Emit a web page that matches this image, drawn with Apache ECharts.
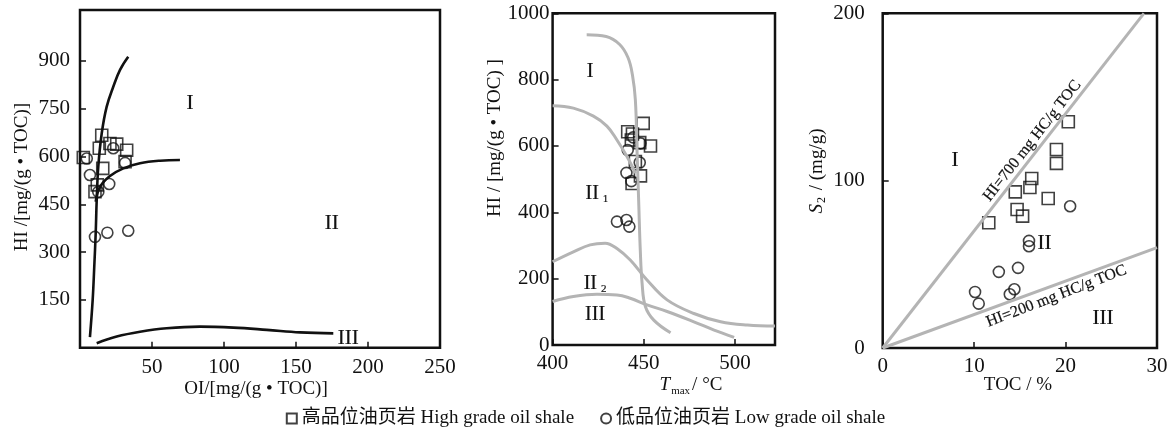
<!DOCTYPE html>
<html>
<head>
<meta charset="utf-8">
<script src="https://cdn.jsdelivr.net/npm/echarts@6/dist/echarts.min.js"></script>
<style>
    html, body { margin: 0; padding: 0; background: #fff; }
    #chartDiv { width: 1171px; height: 436px; }
</style>
</head>
<body>
<div id="chartDiv"></div>
<script>
    // ---- 图1: HI - OI ----
    var p1Squares = [[15.1, 667], [13.4, 626], [20.8, 641], [25.5, 639], [32.4, 620], [31.3, 584], [15.8, 563], [2.3, 597], [12.0, 511], [10.4, 490]];
    var p1Circles = [[4.7, 594], [23.1, 626], [31.3, 580], [6.9, 542], [20.3, 514], [12.7, 489], [10.4, 348], [19.0, 361], [33.5, 367]];
    var p1CurveA = [[6.9, 33], [8.8, 150], [9.9, 254], [10.9, 359], [11.6, 463], [12.7, 568], [15.1, 673], [18.5, 756], [23.1, 819], [27.8, 872], [33.5, 913]];
    var p1CurveB = [[10.9, 458], [13.9, 505], [20.8, 539], [30.1, 563], [41.7, 579], [55.6, 587], [69.4, 589]];
    var p1CurveC = [[11.6, 14], [25.5, 35], [41.7, 50], [60.2, 61], [83.3, 66], [106.5, 63], [129.7, 56], [152.8, 48], [175.9, 45]];
    var p1Labels = ['I', 'II', 'III'];
    var p1LabelPos = [[76.4, 767], [174.8, 390], [186.3, 30]];
    var p1XTicks = [50, 100, 150, 200, 250];
    var p1YTicks = [150, 300, 450, 600, 750, 900];

    // ---- 图2: HI - Tmax ----
    var p2Squares = [[441.2, 643], [443.8, 636], [443.2, 618], [447.8, 610], [449.7, 668], [453.7, 600], [445.4, 553], [448.2, 510], [443.6, 487]];
    var p2Circles = [[444.2, 626], [448.2, 608], [441.2, 588], [447.8, 550], [440.5, 519], [443.2, 494], [435.3, 372], [440.5, 377], [442.1, 357]];
    var p2Curve1 = [[418.7, 935], [429.4, 930], [436.8, 906], [441.4, 866], [443.8, 814], [445.4, 739], [446.3, 588], [447.2, 437], [448.1, 286], [449.1, 186], [450.9, 116], [455.5, 75], [464.7, 37]];
    var p2Curve2 = [[400, 721], [411.4, 714], [422.4, 690], [429.8, 660], [435.3, 618], [440.8, 568], [445.4, 518]];
    var p2Curve3 = [[400, 251], [411.4, 281], [420.6, 302], [428.8, 307], [435.3, 291], [442.6, 256], [451.8, 196], [462.8, 136], [477.5, 95], [492.2, 70], [506.9, 60], [522, 57]];
    var p2Curve4 = [[400, 131], [411.4, 146], [424.3, 153], [435.3, 151], [442.6, 141], [451.8, 121], [462.8, 101], [477.5, 70], [488.6, 45], [499.6, 23]];
    var p2Labels = ['{r|I}', '{r|II}{s|1}', '{r|II}{s|2}', '{r|III}'];
    var p2LabelPos = [[420.6, 824], [424.3, 457], [423.3, 186], [423.3, 90]];
    var p2XTicks = [400, 450, 500];
    var p2YTicks = [0, 200, 400, 600, 800, 1000];

    // ---- 图3: S2 - TOC ----
    var p3Squares = [[11.6, 74.8], [14.5, 93.3], [14.7, 82.8], [15.3, 78.8], [16.1, 95.9], [16.3, 101.3], [18.1, 89.3], [19, 118.6], [19, 110.3], [20.3, 135.2]];
    var p3Circles = [[20.5, 84.7], [16, 64], [16, 60.8], [14.8, 47.9], [12.7, 45.5], [14.4, 35.1], [13.9, 32.1], [10.1, 33.5], [10.5, 26.5]];
    var p3Hi700 = [[0, 0], [28.57, 200]];
    var p3Hi200 = [[0, 0], [30, 60]];
    var p3Labels = ['I', 'II', 'III'];
    var p3LabelPos = [[7.9, 112.3], [17.7, 62.4], [24.1, 17.5]];
    var p3LineLabels = ['HI=700 mg HC/g TOC', 'HI=200 mg HC/g TOC'];
    var p3LineLabelPos = [[16.35, 123.8], [19.0, 31.0]];
    var p3LineLabelRot = [52, 21];
    var p3XTicks = [0, 10, 20, 30];
    var p3YTicks = [0, 100, 200];

    var highName = '高品位油页岩 High grade oil shale';
    var lowName = '低品位油页岩 Low grade oil shale';

    var SERIF = "'Liberation Serif', 'Noto Sans CJK SC', serif";
    var INK = '#111';
    var GRAY = '#b4b4b4';

    var chart = echarts.init(document.getElementById('chartDiv'), null, {renderer: 'canvas'});

    function grid(left, top, width, height) {
        return {left: left, top: top, width: width, height: height, show: true,
            borderColor: INK, borderWidth: 2.5, backgroundColor: 'transparent'};
    }

    function axis(idx, min, max, ticks, margin) {
        return {
            type: 'value', gridIndex: idx, min: min, max: max,
            splitLine: {show: false},
            axisLine: {show: false},
            axisTick: {show: true, inside: true, length: 6, customValues: ticks,
                lineStyle: {color: INK, width: 1.5}},
            axisLabel: {show: true, customValues: ticks, margin: margin,
                formatter: function (v) { return String(v); },
                color: INK, fontFamily: SERIF, fontSize: 21}
        };
    }

    function curve(data, xi, color) {
        return {
            type: 'line', xAxisIndex: xi, yAxisIndex: xi, data: data,
            smooth: 0.4, symbol: 'none', silent: true,
            lineStyle: {color: color, width: xi === 0 ? 2.6 : 3}
        };
    }

    function points(name, data, xi, symbol, size) {
        return {
            type: 'scatter', name: name, xAxisIndex: xi, yAxisIndex: xi, data: data,
            symbol: symbol, symbolSize: size, silent: true,
            itemStyle: {color: 'rgba(255,255,255,0)', borderColor: INK, borderWidth: 1.6}
        };
    }

    // 区域文字：custom 系列，按数据坐标放置
    function labels(texts, pos, xi, fontSize, rot) {
        return {
            type: 'custom', xAxisIndex: xi, yAxisIndex: xi, silent: true,
            data: pos,
            renderItem: function (params, api) {
                var i = params.dataIndex;
                var pt = api.coord([api.value(0), api.value(1)]);
                return {
                    type: 'text', x: pt[0], y: pt[1],
                    rotation: rot ? rot[i] * Math.PI / 180 : 0,
                    style: {
                        text: texts[i], fill: INK, stroke: INK, lineWidth: 0.2,
                        align: 'center', verticalAlign: 'middle',
                        font: fontSize + 'px ' + SERIF,
                        rich: {
                            r: {fontFamily: SERIF, fontSize: fontSize, fill: INK},
                            s: {fontFamily: SERIF, fontSize: 11, fill: INK, padding: [12, 0, 0, 4]}
                        }
                    }
                };
            }
        };
    }

    var option = {
        animation: false,
        grid: [
            grid(80, 10, 360, 337.7),
            grid(552.6, 13.3, 222.4, 331.7),
            grid(882.7, 13.3, 274.3, 334.7)
        ],
        xAxis: [
            axis(0, 0, 250, p1XTicks, 9),
            axis(1, 400, 522, p2XTicks, 8),
            axis(2, 0, 30, p3XTicks, 8)
        ],
        yAxis: [
            axis(0, 0, 1060, p1YTicks, 10),
            axis(1, 0, 1000, p2YTicks, 3),
            axis(2, 0, 200, p3YTicks, 18)
        ],
        legend: {
            left: 'center', top: 404, itemGap: 26, itemWidth: 10, itemHeight: 10,
            data: [{name: highName, icon: 'rect'}, {name: lowName, icon: 'circle'}],
            itemStyle: {color: '#fff', borderColor: INK, borderWidth: 2},
            textStyle: {fontFamily: SERIF, fontSize: 19, color: INK}
        },
        graphic: [
            {type: 'text', x: 21.7, y: 177, rotation: Math.PI / 2,
                style: {text: 'HI /[mg/(g • TOC)]', font: '19px ' + SERIF, fill: INK, align: 'center', verticalAlign: 'middle'}},
            {type: 'text', x: 256, y: 389,
                style: {text: 'OI/[mg/(g • TOC)]', font: '19px ' + SERIF, fill: INK, align: 'center', verticalAlign: 'middle'}},
            {type: 'text', x: 495, y: 138, rotation: Math.PI / 2,
                style: {text: 'HI / [mg/(g • TOC) ]', font: '19px ' + SERIF, fill: INK, align: 'center', verticalAlign: 'middle'}},
            {type: 'text', x: 691, y: 385,
                style: {text: '{i|T}{s|max}{n|/ °C}', fill: INK, align: 'center', verticalAlign: 'middle',
                    rich: {
                        i: {fontFamily: SERIF, fontSize: 19, fontStyle: 'italic', fill: INK},
                        s: {fontFamily: SERIF, fontSize: 11, fill: INK, padding: [12, 2, 0, 1]},
                        n: {fontFamily: SERIF, fontSize: 19, fill: INK}
                    }}},
            {type: 'text', x: 816.7, y: 171, rotation: Math.PI / 2,
                style: {text: '{i|S}{s|2}{n| / (mg/g)}', fill: INK, align: 'center', verticalAlign: 'middle',
                    rich: {
                        i: {fontFamily: SERIF, fontSize: 19, fontStyle: 'italic', fill: INK},
                        s: {fontFamily: SERIF, fontSize: 12, fill: INK, padding: [10, 2, 0, 1]},
                        n: {fontFamily: SERIF, fontSize: 19, fill: INK}
                    }}},
            {type: 'text', x: 1018, y: 385,
                style: {text: 'TOC / %', font: '19px ' + SERIF, fill: INK, align: 'center', verticalAlign: 'middle'}}
        ],
        series: [
            curve(p1CurveA, 0, INK),
            curve(p1CurveB, 0, INK),
            curve(p1CurveC, 0, INK),
            points(highName, p1Squares, 0, 'rect', 12),
            points(lowName, p1Circles, 0, 'circle', 11),
            labels(p1Labels, p1LabelPos, 0, 21),

            curve(p2Curve1, 1, GRAY),
            curve(p2Curve2, 1, GRAY),
            curve(p2Curve3, 1, GRAY),
            curve(p2Curve4, 1, GRAY),
            points(highName, p2Squares, 1, 'rect', 12),
            points(lowName, p2Circles, 1, 'circle', 11),
            labels(p2Labels, p2LabelPos, 1, 20),

            curve(p3Hi700, 2, GRAY),
            curve(p3Hi200, 2, GRAY),
            points(highName, p3Squares, 2, 'rect', 12),
            points(lowName, p3Circles, 2, 'circle', 11),
            labels(p3Labels, p3LabelPos, 2, 21),
            labels(p3LineLabels, p3LineLabelPos, 2, 16, p3LineLabelRot)
        ]
    };

    chart.setOption(option);
</script>
</body>
</html>
